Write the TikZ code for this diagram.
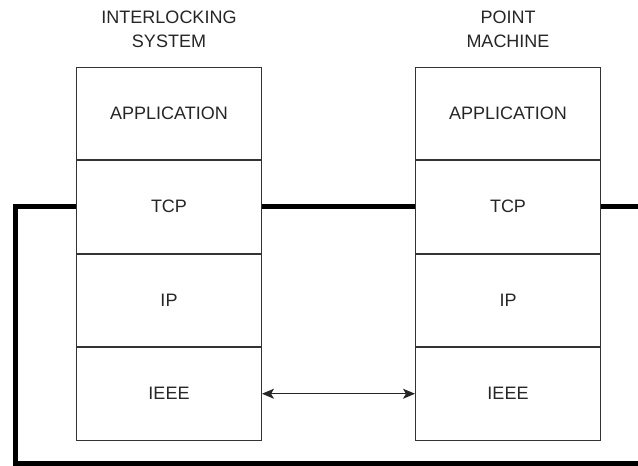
\documentclass[tikz,border=0pt]{standalone}
\usepackage{fontspec}
\setmainfont{Liberation Sans}
\usetikzlibrary{positioning,arrows.meta}
\tikzset{
  layer/.style={draw=black!80, line width=1pt, minimum width=185pt, minimum height=92.5pt,
    inner sep=0pt, text=black!85, font=\fontsize{18}{22}\selectfont},
  title/.style={align=center, inner sep=0pt, text=black!85, font=\fontsize{18}{24}\selectfont},
  bus/.style={line width=5pt, line join=miter},
}
\begin{document}
\begin{tikzpicture}[x=1pt,y=-1pt,node distance=0pt,>={Stealth[length=12pt,width=10pt,inset=3pt]}]
  \clip (0,0) rectangle (638,466);
  \fill[white] (0,0) rectangle (638,466);

  % interlocking system stack
  \node[layer] (isapp) at (169,113.25) {APPLICATION};
  \node[layer, below=of isapp] (istcp) {TCP};
  \node[layer, below=of istcp] (isip) {IP};
  \node[layer, below=of isip] (isieee) {IEEE};
  \node[title, above=19pt of isapp] (istitle) {INTERLOCKING\\SYSTEM};

  % point machine stack
  \node[layer] (pmapp) at (508,113.25) {APPLICATION};
  \node[layer, below=of pmapp] (pmtcp) {TCP};
  \node[layer, below=of pmtcp] (pmip) {IP};
  \node[layer, below=of pmip] (pmieee) {IEEE};
  \node[title, above=19pt of pmapp] (pmtitle) {POINT\\MACHINE};

  % loop corners
  \coordinate (loopbl) at (15,463);
  \coordinate (loopbr) at (660,463);

  % thick TCP link
  \draw[bus] (istcp.east) -- (pmtcp.west);
  \draw[bus] (istcp.west) -| (loopbl) -- (loopbr) |- (pmtcp.east);

  % IEEE link
  \draw[<->, line width=1pt, black!85] (isieee.east) -- (pmieee.west);
\end{tikzpicture}
\end{document}
